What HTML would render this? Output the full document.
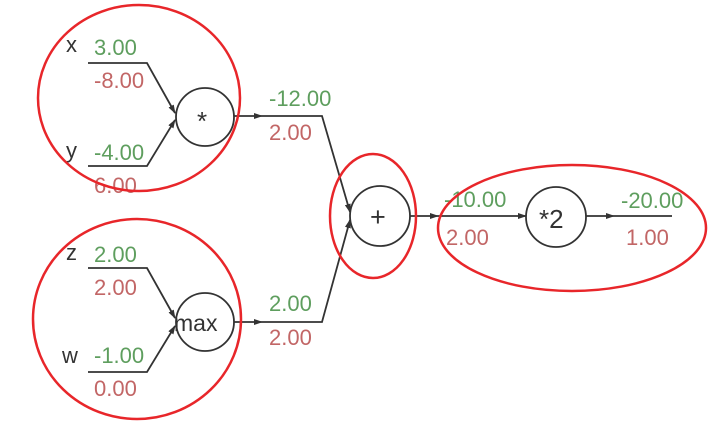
<!DOCTYPE html>
<html><head><meta charset="utf-8"><style>
html,body{margin:0;padding:0;background:#fff;}
svg{display:block;}
text{font-family:"Liberation Sans",sans-serif;font-size:22px;}
.g{fill:#5e9e5e}.r{fill:#c26666}.k{fill:#333}
</style></head><body>
<svg width="709" height="424" viewBox="0 0 709 424">
<defs><marker id="ar" markerUnits="userSpaceOnUse" markerWidth="9" markerHeight="6" refX="8" refY="3" orient="auto"><path d="M0,0L9,3L0,6z" fill="#333"/></marker></defs>
<g stroke="#333" stroke-width="1.8" fill="none">
<polyline points="88,63 147,63 175,113" marker-end="url(#ar)"/>
<polyline points="88,166 147,166 175,120" marker-end="url(#ar)"/>
<polyline points="88,268 147,268 175,318" marker-end="url(#ar)"/>
<polyline points="88,372 147,372 175,326" marker-end="url(#ar)"/>
<line x1="234" y1="116" x2="262" y2="116" marker-end="url(#ar)"/>
<polyline points="262,116 322,116 350,212" marker-end="url(#ar)"/>
<line x1="234" y1="322" x2="262" y2="322" marker-end="url(#ar)"/>
<polyline points="262,322 322,322 350,220" marker-end="url(#ar)"/>
<line x1="410" y1="216" x2="438" y2="216" marker-end="url(#ar)"/>
<line x1="438" y1="216" x2="526" y2="216" marker-end="url(#ar)"/>
<line x1="586" y1="216" x2="614" y2="216" marker-end="url(#ar)"/>
<line x1="614" y1="216" x2="672" y2="216"/>
<circle cx="205" cy="117" r="29" fill="#fff"/>
<circle cx="205" cy="322" r="29" fill="#fff"/>
<circle cx="380" cy="216" r="30" fill="#fff"/>
<circle cx="556" cy="217" r="30" fill="#fff"/>
</g>
<text class="k" x="197" y="130" style="font-size:26px">*</text>
<text class="k" x="174" y="331" style="font-size:23px">max</text>
<text class="k" x="370" y="226" style="font-size:27px">+</text>
<text class="k" x="539" y="228" style="font-size:26px">*2</text>
<text class="k" x="66" y="52">x</text><text class="g" x="94" y="55">3.00</text><text class="r" x="94" y="88">-8.00</text>
<text class="k" x="66" y="158">y</text><text class="g" x="94" y="160">-4.00</text><text class="r" x="94" y="193">6.00</text>
<text class="k" x="66" y="260">z</text><text class="g" x="94" y="262">2.00</text><text class="r" x="94" y="295">2.00</text>
<text class="k" x="62" y="363">w</text><text class="g" x="94" y="363">-1.00</text><text class="r" x="94" y="396">0.00</text>
<text class="g" x="269" y="106">-12.00</text><text class="r" x="269" y="140">2.00</text>
<text class="g" x="269" y="311">2.00</text><text class="r" x="269" y="345">2.00</text>
<text class="g" x="444" y="207">-10.00</text><text class="r" x="446" y="245">2.00</text>
<text class="g" x="621" y="208">-20.00</text><text class="r" x="626" y="245">1.00</text>
<g stroke="#e8262a" stroke-width="2.5" fill="none">
<ellipse cx="139" cy="98" rx="101" ry="93"/>
<ellipse cx="137" cy="319" rx="104" ry="100"/>
<ellipse cx="373" cy="216" rx="43" ry="62"/>
<ellipse cx="572" cy="228" rx="134" ry="63"/>
</g>
</svg>
</body></html>
